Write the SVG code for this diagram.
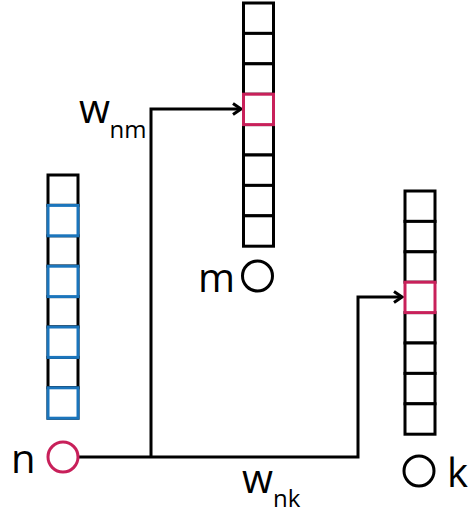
<svg xmlns="http://www.w3.org/2000/svg" width="468" height="518" viewBox="0 0 468 518">
  <style>
    .cell { fill: #ffffff; stroke: #000000; stroke-width: 3; }
    .blue { fill: #ffffff; stroke: #1b75bc; stroke-width: 3; }
    .red { fill: #ffffff; stroke: #c8205a; stroke-width: 3; }
    .node { fill: #ffffff; stroke: #000000; stroke-width: 3; }
    .node-red { fill: #ffffff; stroke: #c8205a; stroke-width: 3; }
    .wire { fill: none; stroke: #000000; stroke-width: 3; }
    .lbl { font-family: "Open Sans", "Noto Sans", sans-serif; font-size: 40px; fill: #000000; }
    .sub { font-family: "Open Sans", "Noto Sans", sans-serif; font-size: 24px; fill: #000000; }
  </style>
  <defs>
    <marker id="head" markerUnits="userSpaceOnUse" markerWidth="14" markerHeight="14" viewBox="-12 -7 14 14" refX="0" refY="0" orient="auto">
      <path d="M-8,-5.5 L0,0 L-8,5.5" fill="none" stroke="#000000" stroke-width="3"/>
    </marker>
  </defs>

  <!-- connectors -->
  <g id="connectors">
    <path class="wire" d="M79,457 H358 V297 H402" marker-end="url(#head)"/>
    <path class="wire" d="M151,457 V109 H241" marker-end="url(#head)"/>
  </g>

  <!-- node n: vector with highlighted entries -->
  <g id="vector-n">
    <rect class="cell" x="48" y="175" width="30" height="30.4"/>
    <rect class="cell" x="48" y="205.4" width="30" height="30.4"/>
    <rect class="cell" x="48" y="235.8" width="30" height="30.4"/>
    <rect class="cell" x="48" y="266.2" width="30" height="30.4"/>
    <rect class="cell" x="48" y="296.6" width="30" height="30.4"/>
    <rect class="cell" x="48" y="327" width="30" height="30.4"/>
    <rect class="cell" x="48" y="357.4" width="30" height="30.4"/>
    <rect class="cell" x="48" y="387.8" width="30" height="30.4"/>
    <rect class="blue" x="48" y="205.4" width="30" height="30.4"/>
    <rect class="blue" x="48" y="266.2" width="30" height="30.4"/>
    <rect class="blue" x="48" y="327" width="30" height="30.4"/>
    <rect class="blue" x="48" y="387.8" width="30" height="30.4"/>
  </g>
  <g id="node-n">
    <circle class="node-red" cx="63" cy="457" r="15"/>
    <text class="lbl" x="11" y="472.5">n</text>
  </g>

  <!-- node m -->
  <g id="vector-m">
    <rect class="cell" x="243.5" y="3" width="30" height="30.4"/>
    <rect class="cell" x="243.5" y="33.4" width="30" height="30.4"/>
    <rect class="cell" x="243.5" y="63.8" width="30" height="30.4"/>
    <rect class="cell" x="243.5" y="124.6" width="30" height="30.4"/>
    <rect class="cell" x="243.5" y="155" width="30" height="30.4"/>
    <rect class="cell" x="243.5" y="185.4" width="30" height="30.4"/>
    <rect class="cell" x="243.5" y="215.8" width="30" height="30.4"/>
    <rect class="red" x="243.5" y="94.2" width="30" height="30.4"/>
  </g>
  <g id="node-m">
    <circle class="node" cx="257.5" cy="276" r="15"/>
    <text class="lbl" x="198" y="291.5">m</text>
  </g>

  <!-- node k -->
  <g id="vector-k">
    <rect class="cell" x="405" y="191" width="30" height="30.4"/>
    <rect class="cell" x="405" y="221.4" width="30" height="30.4"/>
    <rect class="cell" x="405" y="251.8" width="30" height="30.4"/>
    <rect class="cell" x="405" y="312.6" width="30" height="30.4"/>
    <rect class="cell" x="405" y="343" width="30" height="30.4"/>
    <rect class="cell" x="405" y="373.4" width="30" height="30.4"/>
    <rect class="cell" x="405" y="403.8" width="30" height="30.4"/>
    <rect class="red" x="405" y="282.2" width="30" height="30.4"/>
  </g>
  <g id="node-k">
    <circle class="node" cx="419" cy="471" r="15"/>
    <text class="lbl" x="447" y="486.5">k</text>
  </g>

  <!-- weight labels -->
  <g id="label-wnm">
    <text class="lbl" x="79" y="123">w<tspan class="sub" x="109.5" y="138">nm</tspan></text>
  </g>
  <g id="label-wnk">
    <text class="lbl" x="242" y="493">w<tspan class="sub" x="273" y="507">nk</tspan></text>
  </g>
</svg>
